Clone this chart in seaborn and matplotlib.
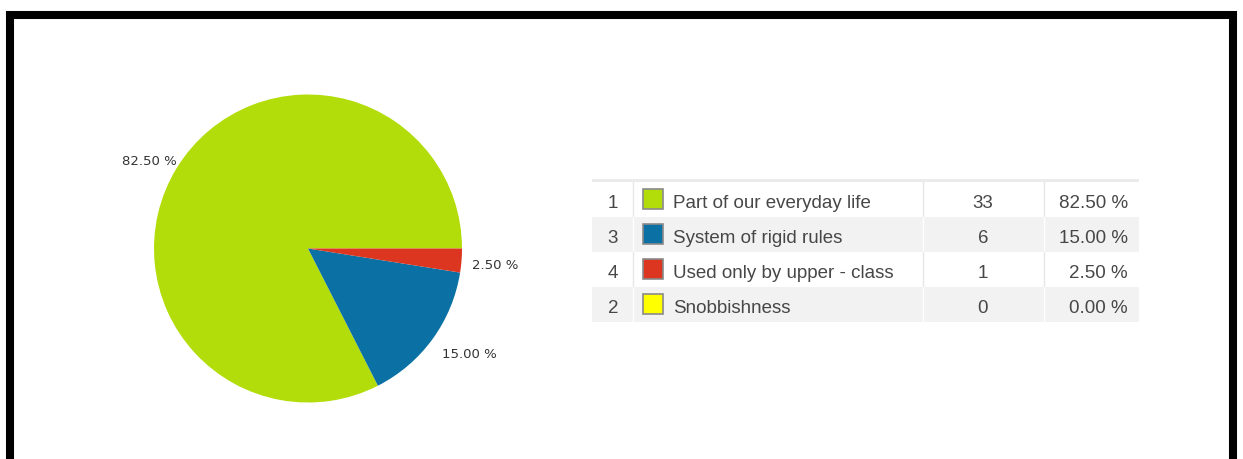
import matplotlib
matplotlib.use("Agg")
import matplotlib.pyplot as plt
from matplotlib.patches import Rectangle
import seaborn as sns

# Survey answers, listed in the order they appear in the summary table
answer_ids = [1, 3, 4, 2]
answers = ["Part of our everyday life", "System of rigid rules",
           "Used only by upper - class", "Snobbishness"]
counts = [33, 6, 1, 0]
answer_colors = ["#b2dd0b", "#0b71a5", "#dc3620", "#ffff00"]

total = sum(counts)
percents = [100.0 * c / total for c in counts]

sns.set_theme(style="white")
palette = sns.color_palette(answer_colors)
plt.rcParams["font.family"] = ["DejaVu Sans"]

W, H = 1243, 459
fig = plt.figure(figsize=(W / 100, H / 100), dpi=100)
fig.patch.set_facecolor("white")

# Full-figure canvas in pixel units for the frame and the table
bg = fig.add_axes([0, 0, 1, 1])
bg.set_xlim(0, W)
bg.set_ylim(H, 0)
bg.axis("off")

# Thick black frame open at the bottom
bg.plot([10, 10, 1233.5, 1233.5], [475, 15, 15, 475], color="black",
        lw=5.8, solid_joinstyle="miter", solid_capstyle="butt", zorder=5)

# Pie chart (only answers that received votes)
cx, cy, r, half = 308, 248.5, 154, 170
pax = fig.add_axes([(cx - half) / W, (H - cy - half) / H, 2 * half / W, 2 * half / H])
nz = [i for i, c in enumerate(counts) if c > 0]
wedges, texts = pax.pie(
    [counts[i] for i in nz],
    colors=[palette[i] for i in nz],
    labels=[f"{percents[i]:.2f} %" for i in nz],
    labeldistance=1.1,
    startangle=0,
    counterclock=True,
    radius=r,
    wedgeprops=dict(linewidth=0),
    textprops=dict(fontsize=9.5, color="#333333", family=["DejaVu Sans"]),
)
# small per-label nudges (data units equal pixels here)
label_nudge = {0: (13, -2), 1: (-3, -6), 2: (-5, -4)}
for j, t in enumerate(texts):
    t.set_va("center")
    x, y = t.get_position()
    dx, dy = label_nudge.get(j, (0, 0))
    t.set_position((x + dx, y + dy))
pax.set_xlim(-half, half)
pax.set_ylim(-half, half)
pax.set_aspect("equal")
pax.axis("off")

# Summary table
tx0, tx1 = 592, 1139
row_top, row_h = 182, 35
col_seps = [633, 923, 1044]
bg.add_patch(Rectangle((tx0, 179), tx1 - tx0, 3, facecolor="#ebebeb", edgecolor="none"))
tfont = dict(family=["Liberation Sans", "DejaVu Sans"], fontsize=13.5, color="#474747")
for k in range(len(answers)):
    y0 = row_top + k * row_h
    shaded = k % 2 == 1
    bg.add_patch(Rectangle((tx0, y0), tx1 - tx0, row_h,
                           facecolor="#f2f2f2" if shaded else "white", edgecolor="none"))
    for xs in col_seps:
        bg.plot([xs, xs], [y0, y0 + row_h], color="white" if shaded else "#e6e6e6", lw=1)
    bg.add_patch(Rectangle((643.5, y0 + 7), 20, 20, facecolor=palette[k],
                           edgecolor="#8a8a8a", lw=1.2, zorder=3))
    base = y0 + 26
    bg.text(613, base, str(answer_ids[k]), ha="center", va="baseline", **tfont)
    bg.text(673, base, answers[k], ha="left", va="baseline", **tfont)
    bg.text(983, base, str(counts[k]), ha="center", va="baseline", **tfont)
    bg.text(1128, base, f"{percents[k]:.2f} %", ha="right", va="baseline", **tfont)

fig.savefig("out.png", dpi=100, facecolor="white")
